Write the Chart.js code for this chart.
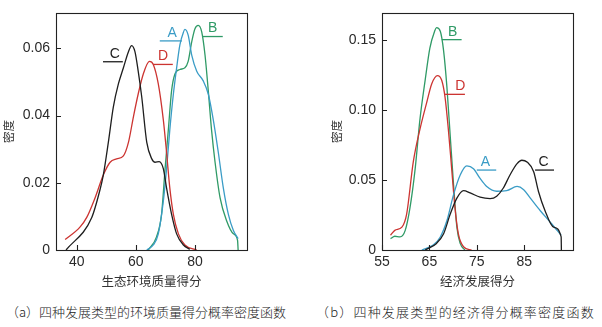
<!doctype html>
<html>
<head>
    <meta charset="UTF-8"/>
    <title>Chart</title>
    <style type="text/css">
        body{margin:0;background:#fff;}
        .wrap{position:relative;width:602px;height:327px;overflow:hidden;background:#fff;}
        #envChart{position:absolute;left:0;top:0;}
        #ecoChart{position:absolute;left:300px;top:0;}
        .caption{position:absolute;top:302px;font-family:"Noto Sans CJK SC";font-size:13px;font-weight:300;color:#222;white-space:nowrap;}
    </style>
</head>
<body>
    <div class="wrap">
        <canvas id="envChart" width="300" height="292"></canvas>
        <canvas id="ecoChart" width="302" height="292"></canvas>
        <div class="caption" style="left:6px">（a）四种发展类型的环境质量得分概率密度函数</div>
        <div class="caption" style="left:316px;letter-spacing:1.2px">（b）四种发展类型的经济得分概率密度函数</div>
    </div>

    <script src="https://cdn.jsdelivr.net/npm/chart.js"></script>

    <script>
        // (a) environmental quality score density, [score, density]
        const envA = [[63.7,0],[65.9,0.0015],[67.6,0.0048],[69.3,0.0145],[70.4,0.0242],[71.5,0.0358],[72.7,0.0464],[73.8,0.0542],[74.9,0.061],[76.1,0.0648],[76.6,0.0656],[77.7,0.0639],[78.9,0.058],[80.6,0.0532],[82.8,0.0503],[84.5,0.0464],[86.2,0.0387],[87.9,0.029],[89.6,0.0184],[91.3,0.0106],[93.0,0.0058],[94.6,0.0034]];
        const envB = [[64.2,0],[67.0,0.0039],[68.7,0.0106],[69.9,0.0242],[71.0,0.0358],[72.1,0.0474],[73.2,0.0523],[74.9,0.0537],[76.6,0.0542],[77.7,0.0561],[78.9,0.0619],[80.0,0.0658],[81.1,0.0668],[82.3,0.0648],[83.4,0.058],[84.5,0.0474],[85.6,0.0358],[86.8,0.0261],[88.5,0.0155],[90.7,0.0087],[93.0,0.0048],[94.4,0.0029],[94.6,0]];
        const envC = [[36.4,0],[45.1,0.0097],[47.9,0.018],[49.0,0.0223],[50.7,0.032],[52.4,0.0426],[54.1,0.0494],[55.8,0.0542],[57.5,0.059],[58.6,0.0608],[59.7,0.059],[60.8,0.0532],[62.0,0.0455],[63.7,0.032],[65.4,0.0271],[66.5,0.0261],[67.9,0.0263],[69.3,0.0242],[70.4,0.0184],[72.1,0.0106],[73.8,0.0048],[76.1,0.0015],[78.3,0.0002]];
        const envD = [[36.1,0.0031],[41.1,0.0068],[43.4,0.0097],[46.2,0.0155],[49.0,0.0223],[51.3,0.0261],[53.5,0.0271],[55.8,0.028],[57.5,0.032],[59.2,0.0397],[60.8,0.0464],[62.5,0.0523],[64.6,0.0561],[65.9,0.0552],[67.6,0.0494],[69.3,0.0387],[70.4,0.029],[71.5,0.0184],[72.7,0.0106],[74.4,0.0048],[76.6,0.0015],[80.6,0]];
        const envXTicks = [40, 60, 80];
        const envXLabels = ['40', '60', '80'];
        const envYTicks = [0, 0.02, 0.04, 0.06];
        const envYLabels = ['0', '0.02', '0.04', '0.06'];

        // (b) economic score density
        const ecoA = [[63.4,0],[65.8,0.0035],[67.3,0.0093],[68.7,0.021],[70.1,0.0395],[71.5,0.0535],[72.9,0.060],[74.3,0.058],[75.7,0.051],[77.1,0.0453],[79.2,0.0419],[81.3,0.0423],[83.5,0.0453],[84.9,0.043],[86.3,0.037],[88.4,0.028],[90.5,0.0198],[92.8,0.0105]];
        const ecoB = [[56.8,0.0081],[57.7,0.0098],[58.8,0.0093],[59.9,0.014],[60.9,0.030],[62.0,0.058],[63.0,0.093],[64.1,0.121],[65.1,0.144],[66.1,0.156],[66.5,0.1586],[67.3,0.156],[68.0,0.142],[68.7,0.116],[69.4,0.081],[70.1,0.0465],[70.8,0.0163],[71.5,0.0047],[72.5,0]];
        const ecoC = [[64.1,0],[66.5,0.0047],[68.0,0.0116],[69.4,0.0256],[70.8,0.037],[72.2,0.0423],[73.6,0.0407],[75.7,0.0377],[77.8,0.0367],[79.2,0.0384],[80.6,0.0442],[82.0,0.0535],[83.5,0.0616],[84.5,0.064],[85.6,0.0628],[87.0,0.0558],[88.0,0.0419],[89.4,0.028],[91.2,0.0163],[92.8,0.0093],[92.85,0]];
        const ecoD = [[56.8,0.0105],[57.7,0.014],[59.2,0.0163],[60.2,0.0256],[61.6,0.0628],[63.0,0.086],[64.4,0.1047],[65.5,0.1186],[66.7,0.1244],[67.6,0.121],[68.3,0.109],[69.0,0.086],[69.7,0.058],[70.4,0.030],[71.1,0.0116],[72.2,0.0023],[73.9,0]];
        const ecoXTicks = [55, 65, 75, 85];
        const ecoXLabels = ['55', '65', '75', '85'];
        const ecoYTicks = [0, 0.05, 0.10, 0.15];
        const ecoYLabels = ['0', '0.05', '0.10', '0.15'];

        const colA = '#3a9cc6';
        const colB = '#2f9a66';
        const colC = '#1e1e1e';
        const colD = '#cc3431';

        // letter tags with a short leader line (data units)
        const envTags = [
            {text: 'C', color: colC, x1: 48.9, x2: 55.6, y: 0.056, tx: 52.9},
            {text: 'D', color: colD, x1: 65.8, x2: 72.5, y: 0.0552, tx: 69.2},
            {text: 'A', color: colA, x1: 68.1, x2: 75.6, y: 0.0622, tx: 72.3},
            {text: 'B', color: colB, x1: 82.7, x2: 89.4, y: 0.0635, tx: 86.0}
        ];
        const ecoTags = [
            {text: 'B', color: colB, x1: 67.6, x2: 71.8, y: 0.150, tx: 69.9},
            {text: 'D', color: colD, x1: 68.3, x2: 72.5, y: 0.111, tx: 71.5},
            {text: 'A', color: colA, x1: 75.0, x2: 79.1, y: 0.057, tx: 76.8},
            {text: 'C', color: colC, x1: 87.3, x2: 91.3, y: 0.057, tx: 89.1}
        ];

        const tickFont = {family: '"Liberation Sans"', size: 14, weight: 400, lineHeight: 1};
        const cjkFont = {family: '"Noto Sans CJK SC"', size: 12.5, weight: 400, lineHeight: 1.2};

        Chart.defaults.color = '#2a2a2a';

        const framePlugin = {
            id: 'frame',
            afterDraw(chart, args, opts) {
                const {ctx, chartArea: a} = chart;
                const x = chart.scales.x, y = chart.scales.y;
                ctx.save();
                ctx.strokeStyle = '#222';
                ctx.lineWidth = 1.1;
                ctx.strokeRect(a.left + 0.5, a.top + 0.5, a.right - a.left, a.bottom - a.top);
                ctx.beginPath();
                x.ticks.forEach(t => {
                    const px = Math.round(x.getPixelForValue(t.value)) + 0.5;
                    ctx.moveTo(px, a.bottom);
                    ctx.lineTo(px, a.bottom - 5);
                });
                y.ticks.forEach(t => {
                    const py = Math.round(y.getPixelForValue(t.value)) + 0.5;
                    ctx.moveTo(a.left, py);
                    ctx.lineTo(a.left + 5, py);
                });
                ctx.stroke();

                ctx.font = '14px "Liberation Sans"';
                ctx.textAlign = 'center';
                ctx.textBaseline = 'middle';
                ctx.lineWidth = 1.3;
                opts.tags.forEach(tag => {
                    const py = y.getPixelForValue(tag.y);
                    ctx.strokeStyle = tag.color;
                    ctx.beginPath();
                    ctx.moveTo(x.getPixelForValue(tag.x1), py);
                    ctx.lineTo(x.getPixelForValue(tag.x2), py);
                    ctx.stroke();
                    ctx.fillStyle = tag.color;
                    ctx.fillText(tag.text, x.getPixelForValue(tag.tx), py - 8);
                });
                ctx.restore();
            }
        };

        function makeSeries(points, color) {
            return {
                data: points.map(p => ({x: p[0], y: p[1]})),
                borderColor: color,
                borderWidth: 1.3,
                pointRadius: 0,
                fill: false,
                cubicInterpolationMode: 'monotone'
            };
        }

        function makeChart(id, cfg) {
            return new Chart(document.getElementById(id), {
                type: 'line',
                data: {datasets: cfg.series},
                options: {
                    responsive: false,
                    animation: false,
                    layout: {padding: cfg.padding},
                    plugins: {
                        legend: {display: false},
                        tooltip: {enabled: false},
                        frame: {tags: cfg.tags}
                    },
                    scales: {
                        x: {
                            type: 'linear',
                            min: cfg.xMin,
                            max: cfg.xMax,
                            grid: {display: false, drawTicks: false},
                            border: {display: false},
                            afterBuildTicks: s => { s.ticks = cfg.xTicks.map(v => ({value: v})); },
                            afterFit: s => { s.height = 42; },
                            ticks: {
                                font: tickFont,
                                padding: 5,
                                maxRotation: 0,
                                callback: (v, i) => cfg.xLabels[i]
                            },
                            title: {display: true, text: cfg.xTitle, color: '#333', font: cjkFont, padding: {top: 0, bottom: 3}}
                        },
                        y: {
                            min: 0,
                            max: cfg.yMax,
                            grid: {display: false, drawTicks: false},
                            border: {display: false},
                            afterBuildTicks: s => { s.ticks = cfg.yTicks.map(v => ({value: v})); },
                            afterFit: s => { s.width = cfg.yWidth; },
                            ticks: {
                                font: tickFont,
                                padding: 6,
                                callback: (v, i) => cfg.yLabels[i]
                            },
                            title: {display: true, text: '密度', color: '#333', font: {family: '"Noto Sans CJK SC"', size: 11.5, weight: 400, lineHeight: 1.2}, padding: {top: 2, bottom: 0}}
                        }
                    }
                },
                plugins: [framePlugin]
            });
        }

        const envChart = makeChart('envChart', {
            series: [makeSeries(envC, colC), makeSeries(envD, colD), makeSeries(envA, colA), makeSeries(envB, colB)],
            tags: envTags,
            padding: {left: 0, top: 7, right: 53, bottom: 0},
            xMin: 33, xMax: 97.6, xTicks: envXTicks, xLabels: envXLabels, xTitle: '生态环境质量得分',
            yMax: 0.0705, yTicks: envYTicks, yLabels: envYLabels, yWidth: 56
        });

        const ecoChart = makeChart('ecoChart', {
            series: [makeSeries(ecoC, colC), makeSeries(ecoA, colA), makeSeries(ecoD, colD), makeSeries(ecoB, colB)],
            tags: ecoTags,
            padding: {left: 28, top: 7, right: 29, bottom: 0},
            xMin: 55, xMax: 95.3, xTicks: ecoXTicks, xLabels: ecoXLabels, xTitle: '经济发展得分',
            yMax: 0.169, yTicks: ecoYTicks, yLabels: ecoYLabels, yWidth: 54
        });
    </script>
</body>
</html>
